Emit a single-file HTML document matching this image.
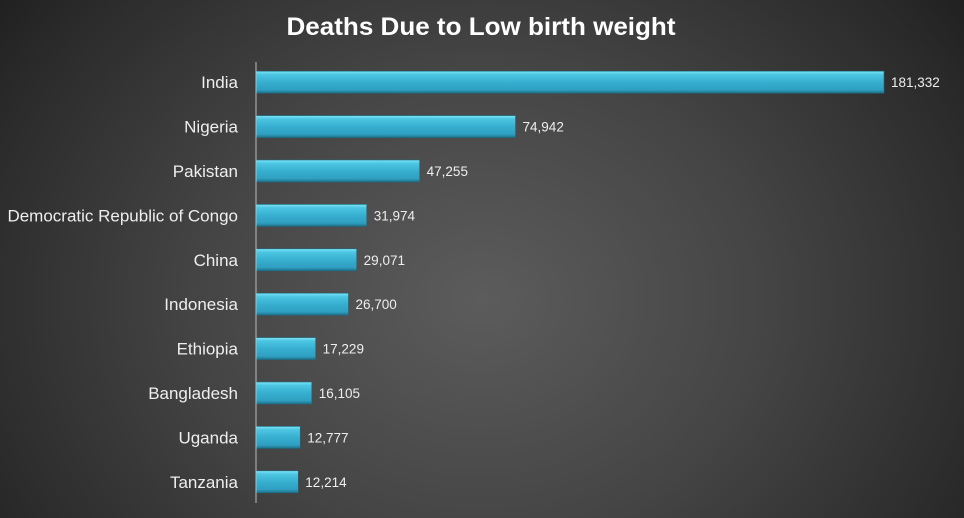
<!DOCTYPE html>
<html><head><meta charset="utf-8"><style>
body{margin:0;width:964px;height:518px;overflow:hidden;font-family:"Liberation Sans",sans-serif}
#bg{position:absolute;left:0;top:0;width:964px;height:518px;background:radial-gradient(ellipse 620px 520px at 482px 300px,#5c5c5c 0%,#454545 45%,#2a2a2a 85%,#1e1e1e 100%)}
</style></head><body>
<div id="bg"></div>
<svg id="c" width="964" height="518" style="position:absolute;left:0;top:0">
<defs>
<linearGradient id="g" x1="0" y1="0" x2="0" y2="1">
<stop offset="0" stop-color="#7fe6f8"/><stop offset="0.15" stop-color="#4cc6e2"/><stop offset="0.5" stop-color="#37afd0"/><stop offset="0.85" stop-color="#2f9fc0"/><stop offset="1" stop-color="#1f6f88"/>
</linearGradient>
</defs>
<text x="481" y="35" text-anchor="middle" fill="#fff" font-size="25" font-weight="bold" textLength="389" lengthAdjust="spacingAndGlyphs">Deaths Due to Low birth weight</text>
</svg>
<script>
const categories=["India","Nigeria","Pakistan","Democratic Republic of Congo","China","Indonesia","Ethiopia","Bangladesh","Uganda","Tanzania"];
const values=[181332,74942,47255,31974,29071,26700,17229,16105,12777,12214];
const labels=["181,332","74,942","47,255","31,974","29,071","26,700","17,229","16,105","12,777","12,214"];
const svg=document.getElementById('c');const NS="http://www.w3.org/2000/svg";
const x0=256,scale=628/181332,top0=60,step=44.4,bh=22;
function xs(v){return x0+v*scale;}
function yc(i){return top0+step*(i+0.5);}
function mk(t,a){const e=document.createElementNS(NS,t);for(const k in a)e.setAttribute(k,a[k]);svg.appendChild(e);return e;}
categories.forEach((c,i)=>{
const y=yc(i);
const r=mk('rect',{x:x0,y:y-bh/2,width:xs(values[i])-x0,height:bh,fill:'url(#g)',stroke:'#1d6a80','stroke-width':0.6});


const t=mk('text',{x:238,y:y+6,'text-anchor':'end',fill:'#eee','font-size':17});t.textContent=c;


const v=mk('text',{x:xs(values[i])+7,y:y+5,fill:'#eee','font-size':13.5});v.textContent=labels[i];


});
const ax=mk('line',{x1:x0,y1:62,x2:x0,y2:503,stroke:'#bbb','stroke-width':1});


</script>
</body></html>
